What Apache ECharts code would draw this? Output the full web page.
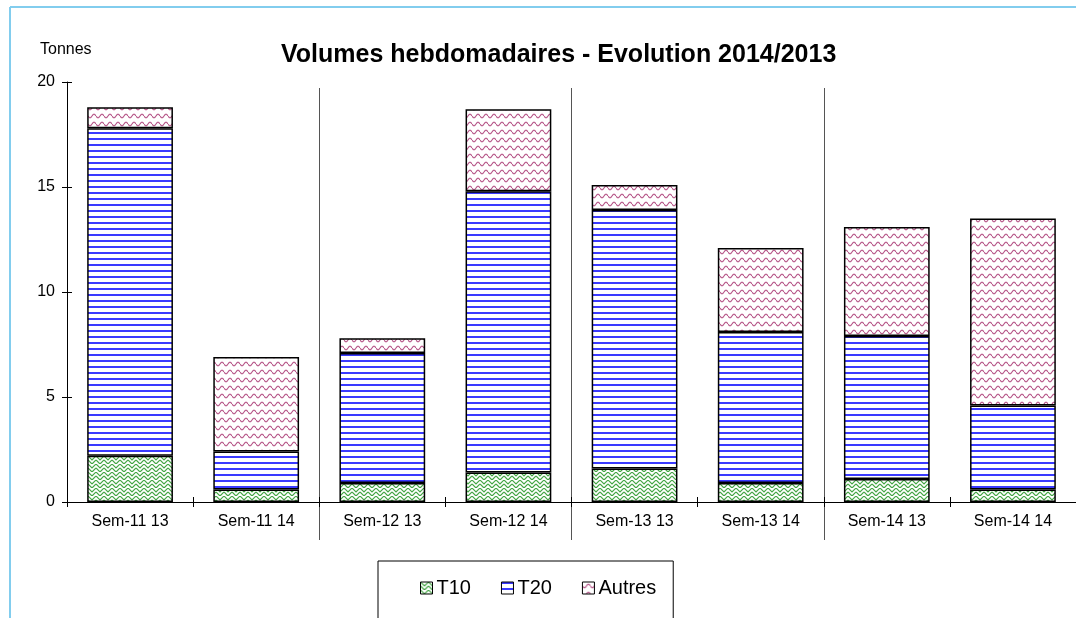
<!DOCTYPE html>
<html>
<head>
<meta charset="utf-8">
<script src="https://cdn.jsdelivr.net/npm/echarts@6/dist/echarts.min.js"></script>
<style>
html, body { margin: 0; padding: 0; background: #fff; }
#main { width: 1076px; height: 618px; }
</style>
</head>
<body>
<div id="main"></div>
<script>
// semaines (13 = 2013, 14 = 2014)
var categories = ['Sem-11 13', 'Sem-11 14', 'Sem-12 13', 'Sem-12 14', 'Sem-13 13', 'Sem-13 14', 'Sem-14 13', 'Sem-14 14'];
var groups = ['Sem-11', 'Sem-12', 'Sem-13', 'Sem-14'];
var t10 = [2.2, 0.6, 0.9, 1.4, 1.6, 0.9, 1.1, 0.6];
var t20 = [15.6, 1.8, 6.2, 13.4, 12.3, 7.2, 6.8, 4.0];
var autres = [1.0, 4.5, 0.7, 3.9, 1.2, 4.0, 5.2, 8.9];
var yMin = 0, yMax = 20, yStep = 5;

// motifs de remplissage (comme dans excel)
function makeTile(w, h, draw) {
    var c = document.createElement('canvas');
    c.width = w; c.height = h;
    var ctx = c.getContext('2d');
    ctx.fillStyle = '#fff';
    ctx.fillRect(0, 0, w, h);
    draw(ctx, w, h);
    return c;
}
var weaveTile = makeTile(8, 8, function (ctx) {
    ctx.strokeStyle = '#45a545';
    ctx.lineWidth = 1.2;
    ctx.beginPath();
    ctx.moveTo(0, 0); ctx.lineTo(4, 4); ctx.lineTo(8, 0);
    ctx.moveTo(0, 4); ctx.lineTo(4, 8); ctx.lineTo(8, 4);
    ctx.stroke();
});
var hlineTile = makeTile(6, 6, function (ctx) {
    ctx.fillStyle = '#3a3aff';
    ctx.fillRect(0, 0, 6, 2);
});
var waveTile = makeTile(8, 8, function (ctx) {
    ctx.strokeStyle = '#b65688';
    ctx.lineWidth = 1.1;
    ctx.beginPath();
    for (var x = 0; x <= 8; x += 0.5) {
        var y = 4 + 1.8 * Math.sin(x / 8 * Math.PI * 2);
        if (x === 0) ctx.moveTo(x, y); else ctx.lineTo(x, y);
    }
    ctx.stroke();
});
function pattern(tile) { return { image: tile, repeat: 'repeat' }; }

var font = 'Arial, "Liberation Sans", sans-serif';

function barSerie(name, data, tile) {
    return {
        name: name,
        type: 'bar',
        stack: 'total',
        barWidth: '68%',
        data: data,
        itemStyle: { color: pattern(tile), borderColor: '#000', borderWidth: 1.5 }
    };
}

var chart = echarts.init(document.getElementById('main'));
var option = {
    animation: false,
    backgroundColor: '#fff',
    title: [
        { text: 'Volumes hebdomadaires - Evolution 2014/2013', left: 276, top: 38,
          textStyle: { fontFamily: font, fontSize: 25, fontWeight: 'bold', color: '#000' } },
        { text: 'Tonnes', left: 35, top: 37,
          textStyle: { fontFamily: font, fontSize: 16, fontWeight: 'normal', color: '#000' } }
    ],
    legend: {
        left: 378, top: 561,
        padding: [17, 17, 30, 42],
        borderColor: '#000', borderWidth: 1,
        itemWidth: 12, itemHeight: 12, itemGap: 30,
        icon: 'rect',
        itemStyle: { borderColor: '#000', borderWidth: 1 },
        textStyle: { fontFamily: font, fontSize: 20, color: '#000', padding: [0, 0, 0, -1] },
        data: ['T10', 'T20', 'Autres']
    },
    grid: [
        { left: 67, right: -1, top: 82, bottom: 116 },
        { left: 67, right: -1, top: 88, bottom: 78 },   // separateurs
        { left: 72, right: -1, top: 82, bottom: 116 },  // graduations y croisees
        { left: 67, right: -1, top: 82, bottom: 121 }   // graduations x croisees
    ],
    xAxis: [
        { type: 'category', gridIndex: 0, data: categories,
          axisLine: { lineStyle: { color: '#000', width: 1 } },
          axisTick: { show: false },
          axisLabel: { margin: 12, fontFamily: font, fontSize: 16, color: '#000' } },
        { type: 'category', gridIndex: 1, data: groups,
          axisLine: { show: false }, axisTick: { show: false }, axisLabel: { show: false },
          splitLine: { show: true, interval: function (i) { return i > 0; }, lineStyle: { color: '#555', width: 1 } } },
        { type: 'category', gridIndex: 2, data: categories, show: false },
        { type: 'category', gridIndex: 3, data: categories,
          axisLine: { show: false },
          axisTick: { show: true, interval: 0, length: 10, lineStyle: { color: '#000', width: 1 } },
          axisLabel: { show: false } }
    ],
    yAxis: [
        { type: 'value', gridIndex: 0, min: yMin, max: yMax, interval: yStep,
          axisLine: { show: true, lineStyle: { color: '#000', width: 1 } },
          axisTick: { show: false },
          axisLabel: { margin: 12, fontFamily: font, fontSize: 16, color: '#000' },
          splitLine: { show: false } },
        { type: 'value', gridIndex: 1, show: false },
        { type: 'value', gridIndex: 2, min: yMin, max: yMax, interval: yStep,
          axisLine: { show: false },
          axisTick: { show: true, length: 10, lineStyle: { color: '#000', width: 1 } },
          axisLabel: { show: false }, splitLine: { show: false } },
        { type: 'value', gridIndex: 3, show: false }
    ],
    graphic: [
        { type: 'line', shape: { x1: 10, y1: 7, x2: 1076, y2: 7 }, style: { stroke: '#82cdee', lineWidth: 2 } },
        { type: 'line', shape: { x1: 10, y1: 7, x2: 10, y2: 618 }, style: { stroke: '#82cdee', lineWidth: 2 } }
    ],
    series: [
        barSerie('T10', t10, weaveTile),
        barSerie('T20', t20, hlineTile),
        barSerie('Autres', autres, waveTile)
    ]
};
chart.setOption(option);
</script>
</body>
</html>
